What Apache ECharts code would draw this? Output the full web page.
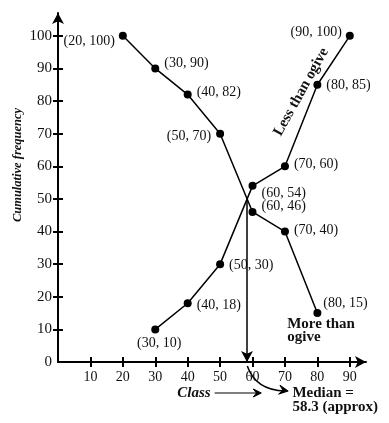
<!DOCTYPE html>
<html><head><meta charset="utf-8">
<script src="https://cdn.jsdelivr.net/npm/echarts@6/dist/echarts.min.js"></script>
<style>html,body{margin:0;padding:0;background:#fff}#c{width:389px;height:423px}</style>
</head><body><div id="c"></div>
<script>
// ---- data ----
const moreX = [20, 30, 40, 50, 60, 70, 80];
const moreY = [100, 90, 82, 70, 46, 40, 15];
const lessX = [30, 40, 50, 60, 70, 80, 90];
const lessY = [10, 18, 30, 54, 60, 85, 100];
const xTicks = [10, 20, 30, 40, 50, 60, 70, 80, 90];
const yTicks = [10, 20, 30, 40, 50, 60, 70, 80, 90, 100];
const yLabels = [0, 10, 20, 30, 40, 50, 60, 70, 80, 90, 100];
const medianX = 58.3;
const medianY = 50;

// ---- label placement (style) ----
const moreLab = [
  {position: 'left', distance: 4, offset: [0, 5]},
  {position: 'right', distance: 5, offset: [0, -5]},
  {position: 'right', distance: 5, offset: [0, -2]},
  {position: 'left', distance: 5, offset: [0, 3]},
  {position: 'right', distance: 5, offset: [0, -6]},
  {position: 'right', distance: 5, offset: [0, -1]},
  {position: 'right', distance: 2, offset: [0, -10]}
];
const lessLab = [
  {position: 'bottom', distance: 3, offset: [4, 0]},
  {position: 'right', distance: 5, offset: [0, 2]},
  {position: 'right', distance: 5, offset: [0, 1]},
  {position: 'right', distance: 5, offset: [0, 7]},
  {position: 'right', distance: 5, offset: [0, -2]},
  {position: 'right', distance: 5, offset: [0, 1]},
  {position: 'left', distance: 4, offset: [0, -4]}
];

const SERIF = '"Liberation Serif", "DejaVu Serif", serif';
const INK = '#111';

function mkSeries(name, xs, ys, labs, extra) {
  return Object.assign({
    name: name,
    type: 'line',
    data: xs.map((x, i) => ({value: [x, ys[i]], label: labs[i]})),
    symbol: 'circle',
    symbolSize: 8,
    itemStyle: {color: '#000'},
    lineStyle: {color: '#000', width: 1.5},
    label: {
      show: true,
      formatter: p => '(' + p.value[0] + ', ' + p.value[1] + ')',
      fontFamily: SERIF, fontSize: 14, color: INK
    },
    emphasis: {disabled: true}
  }, extra || {});
}

const chart = echarts.init(document.getElementById('c'));
const axisLineStyle = {color: '#000', width: 2};

chart.setOption({
  animation: false,
  backgroundColor: '#fff',
  grid: {left: 58, right: 23, top: 13, bottom: 61},
  xAxis: [
    {type: 'value', min: 0, max: 95,
     axisLine: {show: true, lineStyle: axisLineStyle, symbol: ['none', 'arrow'], symbolSize: [9, 11]},
     axisTick: {show: true, customValues: xTicks, length: 5, lineStyle: axisLineStyle},
     axisLabel: {customValues: xTicks, fontFamily: SERIF, fontSize: 14, color: INK, margin: 8},
     splitLine: {show: false}},
    {type: 'value', min: 0, max: 95, position: 'bottom',
     axisLine: {show: false},
     axisTick: {show: true, inside: true, customValues: xTicks, length: 5, lineStyle: axisLineStyle},
     axisLabel: {show: false}, splitLine: {show: false}}
  ],
  yAxis: [
    {type: 'value', min: 0, max: 107,
     axisLine: {show: true, lineStyle: axisLineStyle, symbol: ['none', 'arrow'], symbolSize: [9, 11]},
     axisTick: {show: true, customValues: yTicks, length: 5, lineStyle: axisLineStyle},
     axisLabel: {customValues: yLabels, fontFamily: SERIF, fontSize: 15, color: INK, margin: 6},
     splitLine: {show: false}},
    {type: 'value', min: 0, max: 107, position: 'left',
     axisLine: {show: false},
     axisTick: {show: true, inside: true, customValues: yTicks, length: 5, lineStyle: axisLineStyle},
     axisLabel: {show: false}, splitLine: {show: false}}
  ],
  series: [
    mkSeries('More than ogive', moreX, moreY, moreLab, {
      markLine: {
        silent: true,
        symbol: ['none', 'arrow'],
        symbolSize: [9, 11],
        lineStyle: {color: '#000', width: 1.5, type: 'solid'},
        label: {show: false},
        data: [[{coord: [medianX, medianY]}, {coord: [medianX, 0]}]]
      }
    }),
    mkSeries('Less than ogive', lessX, lessY, lessLab)
  ]
});

// ---- annotations positioned through the chart's scales ----
const px = (x, y) => chart.convertToPixel({seriesIndex: 0}, [x, y]);
function arrowHead(tip, ang, len, half) {
  // ang: direction of travel (radians, screen coords)
  const bx = tip[0] - len * Math.cos(ang), by = tip[1] - len * Math.sin(ang);
  const nx = -Math.sin(ang) * half, ny = Math.cos(ang) * half;
  return {type: 'polygon', shape: {points: [[bx + nx, by + ny], tip, [bx - nx, by - ny], [tip[0] - len * 0.6 * Math.cos(ang), tip[1] - len * 0.6 * Math.sin(ang)]]},
          style: {fill: '#000', stroke: '#000', lineWidth: 1}};
}
const bold = {fontFamily: SERIF, fontWeight: 'bold', fontSize: 15, fill: INK};

const yTitle = px(-12.3, 60.4);
const classPt = px(36.8, -9.5);
const cA = px(48.3, -9.5), cB = px(62.7, -9.5);
const medTxt = px(72.3, -7.4);
const curS = px(58.4, -1.2), curC = px(60.9, -8.6), curE = px(71, -8.9);
const moreTxt = px(70.7, 13.5);
const lessTxt = px(75, 82.8);

chart.setOption({
  graphic: [
    {type: 'text', x: yTitle[0], y: yTitle[1], rotation: Math.PI / 2,
     style: {text: 'Cumulative frequency', fontFamily: SERIF, fontStyle: 'italic', fontWeight: 'bold', fontSize: 12.5, fill: INK, align: 'center', verticalAlign: 'middle'}},
    {type: 'text', x: classPt[0], y: classPt[1],
     style: {text: 'Class', fontFamily: SERIF, fontStyle: 'italic', fontWeight: 'bold', fontSize: 15, fill: INK, align: 'left', verticalAlign: 'middle'}},
    {type: 'line', shape: {x1: cA[0], y1: cA[1], x2: cB[0] - 4, y2: cB[1]}, style: {stroke: '#000', lineWidth: 1.2}},
    arrowHead(cB, 0, 8, 4),
    {type: 'bezierCurve', shape: {x1: curS[0], y1: curS[1], x2: curE[0] - 3, y2: curE[1], cpx1: curC[0], cpy1: curC[1]},
     style: {stroke: '#000', lineWidth: 1.5, fill: null}},
    arrowHead(curE, 0.15, 9, 4.5),
    {type: 'text', x: medTxt[0], y: medTxt[1],
     style: Object.assign({text: 'Median =\n58.3 (approx)', lineHeight: 14, align: 'left', verticalAlign: 'top'}, bold)},
    {type: 'text', x: moreTxt[0], y: moreTxt[1],
     style: Object.assign({text: 'More than\nogive', lineHeight: 13, align: 'left', verticalAlign: 'top'}, bold)},
    {type: 'text', x: lessTxt[0], y: lessTxt[1], rotation: 61 * Math.PI / 180,
     style: Object.assign({text: 'Less than ogive', align: 'center', verticalAlign: 'middle'}, bold)}
  ]
});
</script>
</body></html>
